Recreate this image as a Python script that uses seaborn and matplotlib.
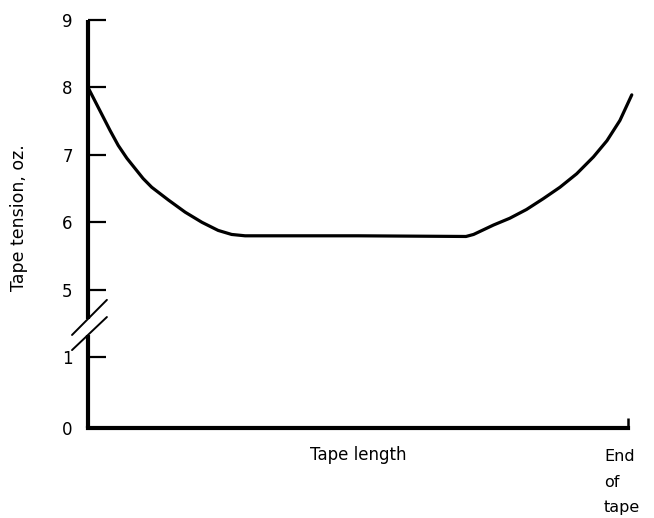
import numpy as np
import pandas as pd
import matplotlib
matplotlib.use("Agg")
import matplotlib.pyplot as plt
import matplotlib.transforms as mtransforms
import seaborn as sns

# Tape tension along the length of the tape (fraction of tape length, oz.)
tape_position = [0.0, 0.025, 0.041, 0.056, 0.072, 0.087, 0.102,
                 0.118, 0.149, 0.180, 0.211, 0.241, 0.266, 0.291, 0.500,
                 0.700, 0.714, 0.751, 0.781, 0.812, 0.843, 0.874, 0.905,
                 0.936, 0.961, 0.985, 1.007]
tension_oz = [8.0, 7.61, 7.36, 7.14, 6.95, 6.80, 6.65,
              6.52, 6.33, 6.15, 6.00, 5.88, 5.82, 5.80, 5.80,
              5.79, 5.82, 5.96, 6.06, 6.19, 6.35, 6.52, 6.72,
              6.97, 7.21, 7.51, 7.89]

y_ticks = [0, 1, 5, 6, 7, 8, 9]
y_tick_labels = ["0", "1", "5", "6", "7", "8", "9"]
end_label = "End\nof\ntape"

df = pd.DataFrame({"position": tape_position, "tension": tension_oz})

sns.set_theme(style="white")
plt.rcParams["font.family"] = ["DejaVu Sans"]


# Broken y axis: 0-1 at full scale, 1-5 compressed, 5-9 at full scale
def forward(v):
    v = np.asarray(v, dtype=float)
    return np.where(v <= 1, 1.05 * v,
                    np.where(v < 5, 1.05 + (v - 1) / 4.0, 2.05 + (v - 5)))


def inverse(p):
    p = np.asarray(p, dtype=float)
    return np.where(p <= 1.05, p / 1.05,
                    np.where(p < 2.05, 1 + 4.0 * (p - 1.05), 5 + (p - 2.05)))


fig = plt.figure(figsize=(6.54, 5.18), dpi=100)
ax = fig.add_axes([88 / 654, 90 / 518, 540 / 654, 408 / 518])

sns.lineplot(data=df, x="position", y="tension", ax=ax, color="black",
             linewidth=2.3, clip_on=False)

ax.set_yscale("function", functions=(forward, inverse))
ax.set_xlim(0, 1)
ax.set_ylim(0, 9)

ax.set_yticks(y_ticks)
ax.set_yticklabels(y_tick_labels)
ax.set_xticks([1])
ax.set_xticklabels([end_label], linespacing=1.9, multialignment="left")

ax.tick_params(axis="y", direction="in", length=13, width=1.6, pad=11,
               labelsize=12, colors="black", left=True)
ax.tick_params(axis="x", direction="in", length=7, width=1.8, pad=15,
               labelsize=11.5, colors="black", bottom=True)

# nudge the end-of-tape label so its left edge sits just left of the tick
shift = mtransforms.ScaledTranslation(-6 / 100, 0, fig.dpi_scale_trans)
for lbl in ax.get_xticklabels():
    lbl.set_transform(lbl.get_transform() + shift)

for side in ("top", "right", "left"):
    ax.spines[side].set_visible(False)
ax.spines["bottom"].set_linewidth(3.0)
ax.spines["bottom"].set_color("black")

# Left axis line drawn in two pieces with a break between 1 and 5
ax.plot([0, 0], [0, 0.228], transform=ax.transAxes, color="black",
        linewidth=3.0, clip_on=False, solid_capstyle="butt")
ax.plot([0, 0], [0.267, 1.0], transform=ax.transAxes, color="black",
        linewidth=3.0, clip_on=False, solid_capstyle="butt")
# Break marks
ax.plot([-0.0296, 0.035], [0.228, 0.314], transform=ax.transAxes,
        color="black", linewidth=1.4, clip_on=False)
ax.plot([-0.0296, 0.035], [0.191, 0.272], transform=ax.transAxes,
        color="black", linewidth=1.4, clip_on=False)

ax.set_xlabel("Tape length", fontsize=12, color="black")
ax.xaxis.label.set_va("center")
ax.xaxis.set_label_coords(0.5, -0.066)
ax.set_ylabel("Tape tension, oz.", fontsize=12.5, color="black")
ax.yaxis.label.set_va("center")
ax.yaxis.set_label_coords(-0.127, 0.515)

fig.savefig("out.png", dpi=100)
